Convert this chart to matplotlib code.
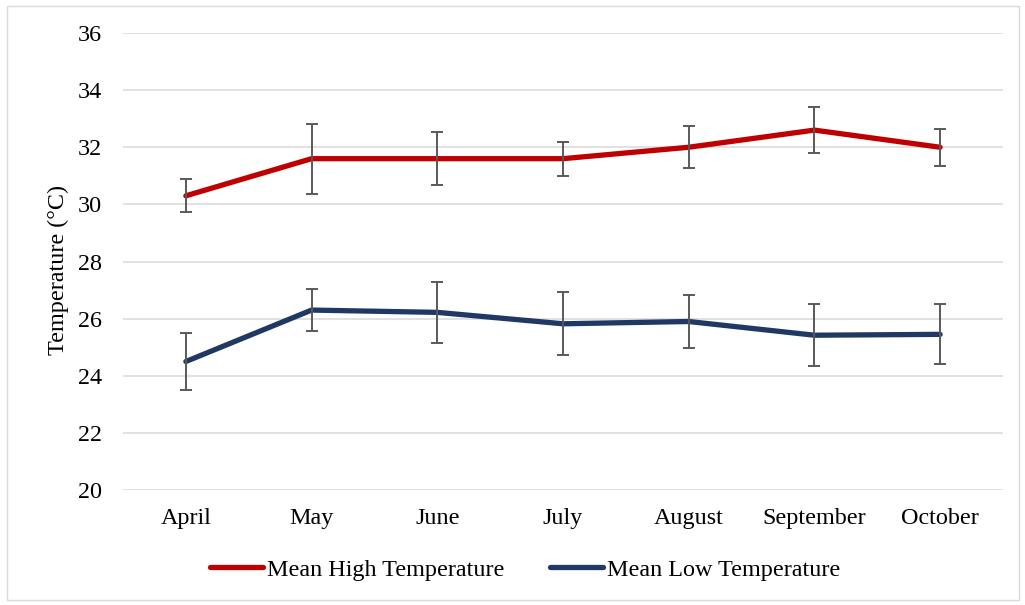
import matplotlib
matplotlib.use("Agg")
import matplotlib.pyplot as plt
from matplotlib.patches import Rectangle

plt.rcParams["font.family"] = ["Liberation Serif", "DejaVu Serif"]

MONTHS = ["April", "May", "June", "July", "August", "September", "October"]
HIGH = [30.3, 31.6, 31.6, 31.6, 32.0, 32.6, 32.0]
HIGH_ERR = [0.58, 1.22, 0.93, 0.6, 0.73, 0.81, 0.645]
LOW = [24.5, 26.3, 26.22, 25.82, 25.9, 25.42, 25.45]
LOW_ERR = [1.01, 0.73, 1.08, 1.11, 0.92, 1.09, 1.05]
YTICKS = [20, 22, 24, 26, 28, 30, 32, 34, 36]

RED = "#C00000"
NAVY = "#203864"
GRID = "#D9D9D9"
ERRC = "#595959"
FS = 17.4

fig = plt.figure(figsize=(10.25, 6.05), dpi=100)
fig.patches.append(Rectangle((0.007, 0.008), 0.987, 0.982, transform=fig.transFigure,
                             fill=False, edgecolor=GRID, linewidth=1.0))

ax = fig.add_axes([0.12, 0.19, 0.8585, 0.7555])
x = range(len(MONTHS))

for vals, errs, col, lab in [(HIGH, HIGH_ERR, RED, "Mean High Temperature"),
                             (LOW, LOW_ERR, NAVY, "Mean Low Temperature")]:
    ax.plot(x, vals, color=col, lw=3.8, solid_capstyle="round",
            solid_joinstyle="round", label=lab, zorder=3)
    ax.errorbar(x, vals, yerr=errs, fmt="none", ecolor=ERRC, elinewidth=1.4,
                capsize=4.5, capthick=1.4, zorder=4)

ax.set_xlim(-0.5, len(MONTHS) - 0.5)
ax.set_ylim(20, 36)
ax.set_yticks(YTICKS)
ax.set_xticks(list(x))
ax.set_xticklabels(MONTHS)
ax.tick_params(axis="both", length=0, labelsize=FS)
ax.tick_params(axis="y", pad=15)
ax.tick_params(axis="x", pad=13)
ax.grid(axis="y", color=GRID, lw=1.1)
ax.set_axisbelow(True)
for s in ax.spines.values():
    s.set_visible(False)
ax.set_ylabel("Temperature (°C)", fontsize=FS)
ax.yaxis.set_label_coords(-0.061, 0.481)

fig.legend(loc="center", bbox_to_anchor=(0.512, 0.058), ncol=2, frameon=False,
           fontsize=FS, handlelength=2.2, handletextpad=0.15, columnspacing=1.9)

fig.savefig("out.png", dpi=100, facecolor="white")
